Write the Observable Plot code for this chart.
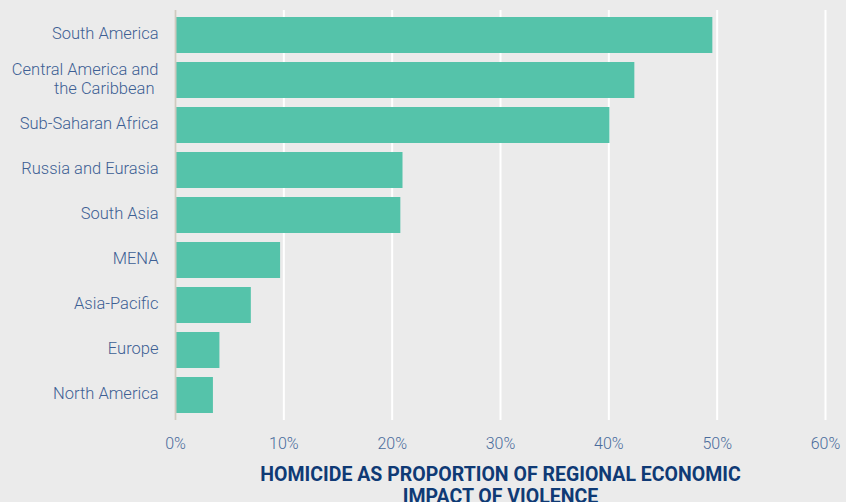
<!DOCTYPE html>
<html>
<head>
<meta charset="utf-8">
<script src="https://cdn.jsdelivr.net/npm/d3@7"></script>
<script src="https://cdn.jsdelivr.net/npm/@observablehq/plot@0.6"></script>
<style>
  html, body { margin: 0; padding: 0; background: #ebebeb; }
  #chart svg { display: block; }
</style>
</head>
<body>
<div id="chart"></div>
<script>
const regions = [
  "South America",
  "Central America and\nthe Caribbean\u00a0",
  "Sub-Saharan Africa",
  "Russia and Eurasia",
  "South Asia",
  "MENA",
  "Asia-Pacific",
  "Europe",
  "North America"
];
const shares = [49.6, 42.4, 40.1, 21.0, 20.8, 9.7, 7.0, 4.1, 3.5];
const xTicks = [0, 10, 20, 30, 40, 50, 60];
const axisTitle = "HOMICIDE AS PROPORTION OF REGIONAL ECONOMIC\nIMPACT OF VIOLENCE";

const data = regions.map((r, i) => ({region: r, value: shares[i]}));

const chart = Plot.plot({
  width: 846,
  height: 502,
  marginTop: 10,
  marginBottom: 82,
  marginLeft: 175,
  marginRight: 21,
  style: {background: "#ebebeb", fontFamily: "Roboto, sans-serif"},
  x: {domain: [0, 60], ticks: xTicks},
  y: {domain: regions, paddingInner: 0.2, paddingOuter: 0.08, align: 0.5},
  marks: [
    Plot.gridX(xTicks, {stroke: "#ffffff", strokeOpacity: 1, strokeWidth: 2}),
    Plot.barX(data, {x: "value", y: "region", fill: "#55c3aa"}),
    Plot.ruleX([0], {stroke: "#cfcac0", strokeWidth: 2}),
    Plot.axisX(xTicks, {
      tickSize: 0, tickPadding: 17, label: null,
      tickFormat: d => d + "%",
      fontSize: 16, fontWeight: 300, fill: "#4a6b9c"
    }),
    Plot.axisY({
      tickSize: 0, tickPadding: 17, label: null, dy: -2,
      fontSize: 16.5, fontWeight: 300, fill: "#3d5f94", lineHeight: 1.12
    }),
    Plot.text([axisTitle], {
      frameAnchor: "bottom", dy: 45, lineAnchor: "top",
      fontSize: 19.5, fontWeight: 700, fill: "#0f3a75", lineHeight: 1.12
    })
  ]
});
document.getElementById("chart").append(chart);
</script>
</body>
</html>
